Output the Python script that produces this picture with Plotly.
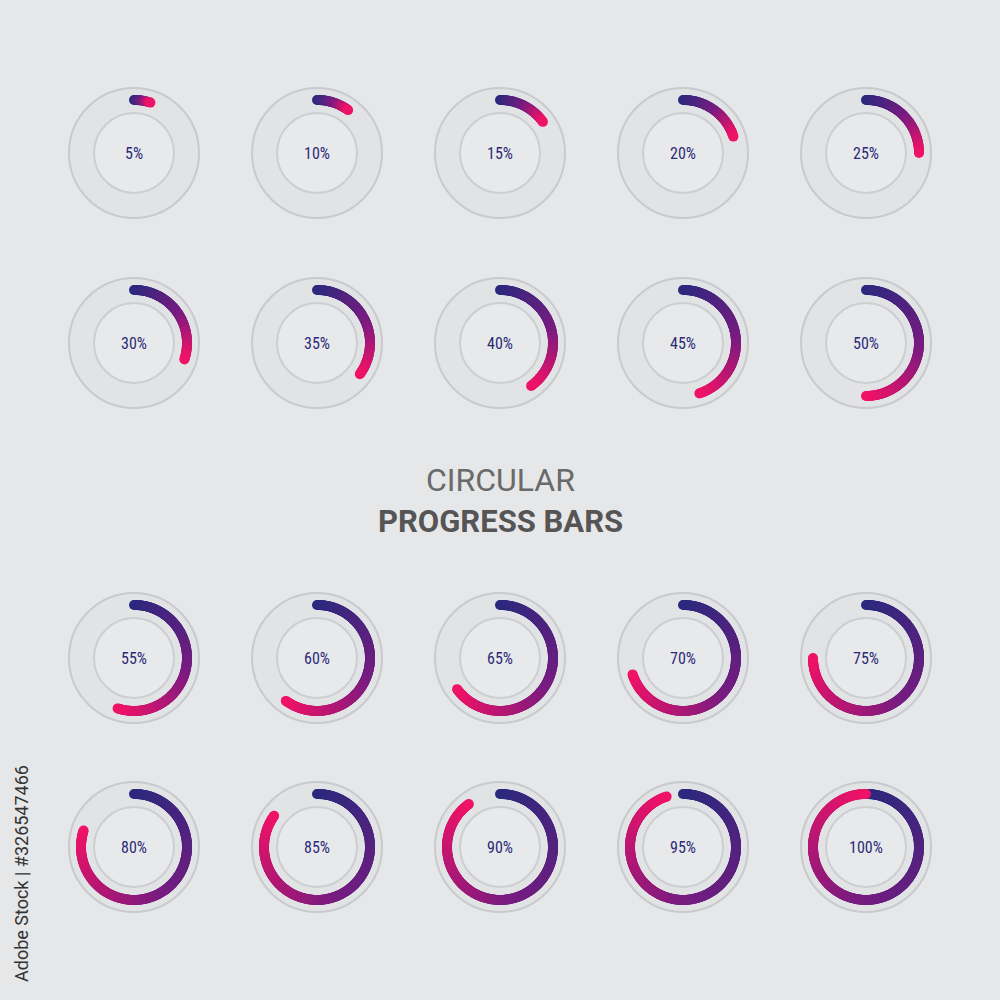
import numpy as np
import plotly.graph_objects as go

values = [5, 10, 15, 20, 25, 30, 35, 40, 45, 50, 55, 60, 65, 70, 75, 80, 85, 90, 95, 100]
labels = [f"{v}%" for v in values]
col_x = [134, 317, 500, 683, 866]
row_y = [153, 343, 658, 847]

R_OUT, R_IN, R_ARC = 65, 40, 53
fig = go.Figure()
shapes = []
for i, v in enumerate(values):
    cx, cy = col_x[i % 5], row_y[i // 5]
    shapes.append(dict(type="circle", xref="x", yref="y", x0=cx - R_OUT, x1=cx + R_OUT,
                       y0=cy - R_OUT, y1=cy + R_OUT, fillcolor="#e2e3e5",
                       line=dict(color="#c9cacd", width=2), layer="below"))
    shapes.append(dict(type="circle", xref="x", yref="y", x0=cx - R_IN, x1=cx + R_IN,
                       y0=cy - R_IN, y1=cy + R_IN, fillcolor="#e8e9eb",
                       line=dict(color="#cdced1", width=2), layer="below"))
    n = max(int(v * 3.4), 10)
    frac = np.linspace(0, 1, n)
    ang = frac * v / 100 * 2 * np.pi
    xs = cx + R_ARC * np.sin(ang)
    ys = cy - R_ARC * np.cos(ang)
    fig.add_trace(go.Scatter(x=xs, y=ys, mode="markers", hoverinfo="skip",
                             marker=dict(size=10, color=frac, cmin=0, cmax=1,
                                         colorscale=[[0, "#2a2a7e"], [0.55, "#7a1c80"], [1, "#ee1367"]],
                                         line=dict(width=0))))
    fig.add_annotation(x=cx, y=cy, text=labels[i], showarrow=False,
                       font=dict(family="Liberation Sans Narrow, Roboto Condensed, Roboto", size=16, color="#2b2a78"))

fig.add_annotation(x=500, y=480, text="CIRCULAR", showarrow=False,
                   font=dict(family="Roboto", size=32, color="#6a6a6a"))
fig.add_annotation(x=500, y=521, text="<b>PROGRESS BARS</b>", showarrow=False,
                   font=dict(family="Roboto", size=31, color="#555555"))
fig.add_annotation(x=21, y=874, text="Adobe Stock | #326547466", showarrow=False, textangle=-90,
                   font=dict(family="Roboto", size=18, color="#333333"))

fig.update_layout(width=1000, height=1000, margin=dict(l=0, r=0, t=0, b=0),
                  paper_bgcolor="#e6e7e9", plot_bgcolor="#e6e7e9", showlegend=False, shapes=shapes,
                  xaxis=dict(range=[0, 1000], visible=False, fixedrange=True),
                  yaxis=dict(range=[1000, 0], visible=False, fixedrange=True))
fig.write_html("out.html", config={"displayModeBar": False},
               post_script="document.body.style.margin='0';document.body.style.overflow='hidden';")
